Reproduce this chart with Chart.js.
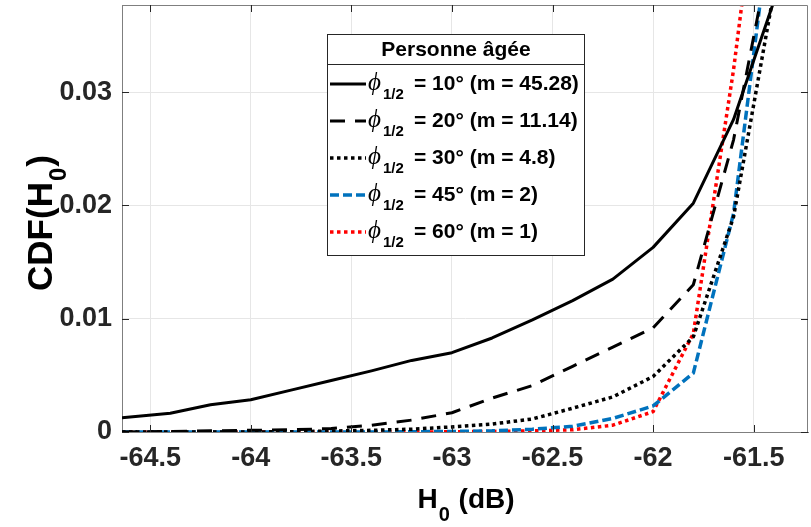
<!DOCTYPE html>
<html><head><meta charset="utf-8">
<script src="https://cdn.jsdelivr.net/npm/chart.js@4/dist/chart.umd.min.js"></script>
<style>html,body{margin:0;padding:0;background:#fff}#wrap{width:811px;height:527px;position:relative}</style>
</head><body><div id="wrap"><canvas id="c" width="811" height="527"></canvas></div>
<script>
// ---- data ----
const xValues = [-64.64, -64.4, -64.2, -64.0, -63.8, -63.6, -63.4, -63.2, -63.0, -62.8, -62.6, -62.4, -62.2, -62.0, -61.8, -61.6, -61.4];
const cdf10 = [0.00125, 0.00165, 0.00240, 0.00285, 0.00370, 0.00455, 0.00540, 0.00632, 0.00700, 0.00830, 0.00990, 0.01160, 0.01350, 0.01630, 0.02020, 0.02760, 0.03800];
const cdf20 = [0.00000, 0.00005, 0.00010, 0.00015, 0.00020, 0.00030, 0.00060, 0.00105, 0.00170, 0.00300, 0.00410, 0.00580, 0.00750, 0.00920, 0.01300, 0.02580, 0.04400];
const cdf30 = [0.00000, 0.00000, 0.00000, 0.00000, 0.00003, 0.00008, 0.00015, 0.00025, 0.00045, 0.00070, 0.00115, 0.00210, 0.00310, 0.00490, 0.00840, 0.01900, 0.03880];
const cdf45 = [0.00000, 0.00000, 0.00000, 0.00000, 0.00000, 0.00000, 0.00000, 0.00002, 0.00005, 0.00010, 0.00025, 0.00050, 0.00120, 0.00230, 0.00520, 0.01930, 0.04740];
const cdf60 = [0.00000, 0.00000, 0.00000, 0.00000, 0.00000, 0.00000, 0.00000, 0.00000, 0.00002, 0.00005, 0.00010, 0.00020, 0.00060, 0.00180, 0.00870, 0.03200, 0.06000];
const xTicks = [-64.5, -64, -63.5, -63, -62.5, -62, -61.5];
const yTicks = [0, 0.01, 0.02, 0.03];
const legendTitle = 'Personne âgée';
const legendTexts = ['= 10° (m = 45.28)', '= 20° (m = 11.14)', '= 30° (m = 4.8)', '= 45° (m = 2)', '= 60° (m = 1)'];
const xTitle = ['H', '0', ' (dB)'];
const yTitle = ['CDF(H', '0', ')'];

const FONT = "'Liberation Sans', Arial, sans-serif";
const series = [
  {data: cdf10, color: '#000000', dash: [], width: 3},
  {data: cdf20, color: '#000000', dash: [15, 10], width: 3},
  {data: cdf30, color: '#000000', dash: [3.5, 3.5], width: 3.5},
  {data: cdf45, color: '#0072BD', dash: [9, 4], width: 3.5},
  {data: cdf60, color: '#FF0000', dash: [3.5, 3.5], width: 3.5}
];

const datasets = series.map((s, i) => ({
  label: legendTexts[i],
  data: xValues.map((x, k) => ({x: x, y: s.data[k]})),
  borderColor: s.color,
  borderDash: s.dash,
  borderWidth: s.width,
  borderCapStyle: 'butt',
  borderJoinStyle: 'round',
  pointRadius: 0,
  tension: 0,
  fill: false,
  clip: 0
}));

const decor = {
  id: 'decor',
  afterDraw(chart) {
    const ctx = chart.ctx;
    const a = chart.chartArea;
    const xs = chart.scales.x, ys = chart.scales.y;
    ctx.save();
    // box
    ctx.strokeStyle = '#7f7f7f';
    ctx.lineWidth = 1;
    ctx.beginPath();
    ctx.moveTo(a.left + 0.5, a.top + 0.5); ctx.lineTo(a.right - 0.5, a.top + 0.5); ctx.lineTo(a.right - 0.5, a.bottom);
    ctx.stroke();
    // inner ticks
    ctx.strokeStyle = '#262626';
    ctx.beginPath();
    xTicks.forEach(v => {
      const p = Math.round(xs.getPixelForValue(v)) + 0.5;
      ctx.moveTo(p, a.bottom); ctx.lineTo(p, a.bottom - 7);
      ctx.moveTo(p, a.top); ctx.lineTo(p, a.top + 7);
    });
    yTicks.forEach(v => {
      const p = Math.round(ys.getPixelForValue(v)) + 0.5;
      ctx.moveTo(a.left, p); ctx.lineTo(a.left + 7, p);
      ctx.moveTo(a.right, p); ctx.lineTo(a.right - 7, p);
    });
    ctx.stroke();

    // legend
    const L = 327.5, R = 584.5, T = 34.5, B = 255.5;
    ctx.fillStyle = '#ffffff';
    ctx.fillRect(L, T, R - L, B - T);
    ctx.strokeStyle = '#262626';
    ctx.lineWidth = 1;
    ctx.strokeRect(L, T, R - L, B - T);
    ctx.beginPath(); ctx.moveTo(L, 64.5); ctx.lineTo(R, 64.5); ctx.stroke();
    ctx.fillStyle = '#000000';
    ctx.textBaseline = 'middle';
    ctx.textAlign = 'center';
    ctx.font = 'bold 21px ' + FONT;
    ctx.fillText(legendTitle, (L + R) / 2, 50);
    ctx.textAlign = 'left';
    chart.data.datasets.forEach((ds, i) => {
      const y = 84 + i * 37;
      ctx.save();
      ctx.strokeStyle = ds.borderColor;
      ctx.lineWidth = ds.borderWidth;
      ctx.setLineDash(ds.borderDash);
      ctx.lineCap = 'butt';
      ctx.beginPath(); ctx.moveTo(330, y); ctx.lineTo(366, y); ctx.stroke();
      ctx.restore();
      ctx.fillStyle = '#000000';
      ctx.font = 'italic 25px "Liberation Serif", serif';
      ctx.fillText('\u03D5', 368, y - 1);
      ctx.font = 'bold 15px ' + FONT;
      ctx.fillText('1/2', 383, y + 11);
      ctx.font = 'bold 21px ' + FONT;
      ctx.fillText(ds.label, 414, y);
    });

    // axis titles
    ctx.fillStyle = '#000000';
    ctx.textBaseline = 'alphabetic';
    ctx.textAlign = 'left';
    const big = 'bold 28px ' + FONT, small = 'bold 20px ' + FONT;
    ctx.font = big; const w0 = ctx.measureText(xTitle[0]).width, w2 = ctx.measureText(xTitle[2]).width;
    ctx.font = small; const w1 = ctx.measureText(xTitle[1]).width;
    let x0 = (a.left + a.right) / 2 - (w0 + w1 + w2) / 2;
    ctx.font = big; ctx.fillText(xTitle[0], x0, 508);
    ctx.font = small; ctx.fillText(xTitle[1], x0 + w0 + 1, 521);
    ctx.font = big; ctx.fillText(xTitle[2], x0 + w0 + w1 + 2, 508);

    const bigY = 'bold 35px ' + FONT, smallY = 'bold 24px ' + FONT;
    ctx.save();
    ctx.translate(52, 224);
    ctx.rotate(-Math.PI / 2);
    ctx.font = bigY; const v0 = ctx.measureText(yTitle[0]).width, v2 = ctx.measureText(yTitle[2]).width;
    ctx.font = smallY; const v1 = ctx.measureText(yTitle[1]).width;
    let s0 = -(v0 + v1 + v2) / 2;
    ctx.font = bigY; ctx.fillText(yTitle[0], s0, 0);
    ctx.font = smallY; ctx.fillText(yTitle[1], s0 + v0 + 1, 14);
    ctx.font = bigY; ctx.fillText(yTitle[2], s0 + v0 + v1 + 2, 0);
    ctx.restore();
    ctx.restore();
  }
};

new Chart(document.getElementById('c'), {
  type: 'line',
  data: {datasets: datasets},
  options: {
    responsive: false,
    animation: false,
    devicePixelRatio: 1,
    layout: {padding: {top: 5, right: 3, left: 0, bottom: 0}},
    plugins: {legend: {display: false}, tooltip: {enabled: false}},
    scales: {
      x: {
        type: 'linear', min: -64.64, max: -61.23,
        afterBuildTicks: s => { s.ticks = xTicks.map(v => ({value: v})); },
        afterFit: s => { s.height = 95; s.paddingLeft = 0; s.paddingRight = 0; },
        ticks: {font: {family: FONT, size: 27, weight: 'bold'}, color: '#262626', padding: 10, maxRotation: 0, autoSkip: false, callback: v => String(v)},
        grid: {color: '#e6e6e6', lineWidth: 1, drawTicks: false},
        border: {display: true, color: '#7f7f7f', width: 1}
      },
      y: {
        type: 'linear', min: 0, max: 0.0377,
        afterBuildTicks: s => { s.ticks = yTicks.map(v => ({value: v})); },
        afterFit: s => { s.width = 122; s.paddingTop = 0; s.paddingBottom = 0; },
        ticks: {font: {family: FONT, size: 27, weight: 'bold'}, color: '#262626', padding: 10, autoSkip: false, callback: v => v === 0 ? '0' : v.toFixed(2)},
        grid: {color: '#e6e6e6', lineWidth: 1, drawTicks: false},
        border: {display: true, color: '#7f7f7f', width: 1}
      }
    }
  },
  plugins: [decor]
});
</script>
</body></html>
